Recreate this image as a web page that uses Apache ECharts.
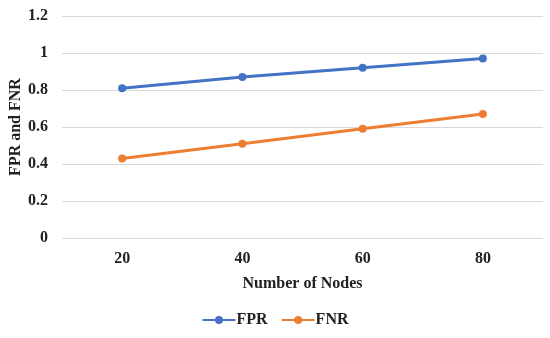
<!DOCTYPE html>
<html><head><meta charset="utf-8">
<script src="https://cdn.jsdelivr.net/npm/echarts@6/dist/echarts.min.js"></script>
<style>html,body{margin:0;padding:0;background:#fff}#c{width:550px;height:338px}</style>
</head><body><div id="c"></div>
<script>
const categories = ['20', '40', '60', '80'];
const fpr = [0.81, 0.87, 0.92, 0.97];
const fnr = [0.43, 0.51, 0.59, 0.67];
const yTicks = [0, 0.2, 0.4, 0.6, 0.8, 1, 1.2];

const font = '"Liberation Serif", "Times New Roman", serif';
const chart = echarts.init(document.getElementById('c'));
chart.setOption({
  animation: false,
  grid: {left: 62, right: 7, top: 16, bottom: 100, containLabel: false, outerBoundsMode: 'none'},
  legend: {
    bottom: 5, left: 'center', itemWidth: 33, itemHeight: 10, itemGap: 13,
    textStyle: {fontFamily: font, fontWeight: 'bold', fontSize: 16, color: '#222', padding: [0, 0, 0, -4]},
    data: ['FPR', 'FNR']
  },
  xAxis: {
    type: 'category', data: categories, boundaryGap: true,
    axisLine: {show: false}, axisTick: {show: false},
    axisLabel: {fontFamily: font, fontWeight: 'bold', fontSize: 16, color: '#222', margin: 13},
    name: 'Number of Nodes', nameLocation: 'middle', nameGap: 38, nameMoveOverlap: false,
    nameTextStyle: {fontFamily: font, fontWeight: 'bold', fontSize: 16, color: '#222'}
  },
  yAxis: {
    type: 'value', min: 0, max: 1.2, interval: 0.2,
    axisLine: {show: false}, axisTick: {show: false},
    splitLine: {lineStyle: {color: '#d9d9d9', width: 1}},
    axisLabel: {fontFamily: font, fontWeight: 'bold', fontSize: 16, color: '#222', margin: 14,
      formatter: v => String(parseFloat(v.toFixed(1)))},
    name: 'FPR and FNR', nameLocation: 'middle', nameGap: 38, nameMoveOverlap: false,
    nameTextStyle: {fontFamily: font, fontWeight: 'bold', fontSize: 16, color: '#222'}
  },
  series: [
    {name: 'FPR', type: 'line', data: fpr, symbol: 'circle', symbolSize: 8,
     lineStyle: {color: '#4472C4', width: 3}, itemStyle: {color: '#4472C4'}},
    {name: 'FNR', type: 'line', data: fnr, symbol: 'circle', symbolSize: 8,
     lineStyle: {color: '#ED7D31', width: 3}, itemStyle: {color: '#ED7D31'}}
  ]
});
</script></body></html>
